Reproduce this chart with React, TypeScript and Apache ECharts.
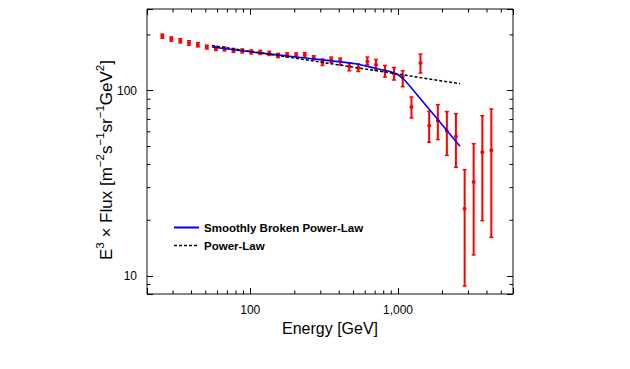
import React, { useEffect, useRef } from "react";
import * as echarts from "echarts";

// Measured data (energy in GeV, E^3 x Flux)
const energy = [25.4, 29.2, 33.6, 38.5, 44.2, 50.8, 58.5, 66.9, 77.0, 88.2, 101.6, 116.9, 134.6, 154.2, 177.5, 204.3, 233.7, 269, 308, 353, 406, 468, 538, 620, 709, 816, 939, 1076, 1233, 1419, 1624, 1860, 2141, 2465, 2824, 3251, 3719, 4280];
const flux = [197, 190, 186, 181, 177, 172, 169, 168, 165, 164, 162, 161, 159, 155, 156, 156, 156, 150.6, 142.8, 146.9, 145, 135.5, 132.5, 143.8, 138, 127.7, 123.5, 119, 81.7, 141, 64.8, 68.9, 60.7, 56.7, 23.1, 32.2, 46.5, 47.7];
const fluxLo = [192, 185, 181, 176, 172.5, 168, 165, 164, 161, 160, 158, 157, 155, 151, 152, 152, 151.5, 146.9, 136.9, 142.1, 138, 128.1, 127, 138, 129.2, 118.5, 114.2, 105.1, 71.3, 124.5, 52.7, 54.5, 44.8, 38.6, 8.83, 13.0, 19.9, 16.2];
const fluxHi = [202, 195, 191, 186, 181.5, 176, 173, 172, 169, 168, 166, 165, 163, 159, 160, 160, 160.5, 154.3, 148.2, 151.9, 150, 141, 139.3, 151.9, 147.5, 136.9, 133.5, 128.1, 92.5, 157.6, 77.4, 84.1, 77.1, 75.2, 37.5, 51.8, 73.3, 79.7];

// Smoothly broken power-law fit curve
const sbplE = [55, 100, 218.5, 516, 673, 763, 892, 1011, 1110, 1220, 1426, 1950, 2624];
const sbplV = [172, 162.2, 151.1, 139.8, 133.2, 130.1, 126.6, 121.2, 113.9, 104.4, 90.0, 66.8, 50.1];

// Power-law fit curve
const plE = [55, 558, 2624];
const plV = [175.4, 132.2, 109.1];

// Axes
const xMin = 20;
const xMax = 6000;
const yMin = 8;
const yMax = 276;
const xMinorTicks = [30, 40, 50, 60, 70, 80, 90, 200, 300, 400, 500, 600, 700, 800, 900, 2000, 3000, 4000, 5000];
const yMinorTicks = [9, 20, 30, 40, 50, 60, 70, 80, 90, 200];

const seriesNames = ["Smoothly Broken Power-Law", "Power-Law"];
const xTitle = "Energy [GeV]";
const yTitleRich = "{b|E}{s|3}{b| × Flux [m}{s|−2}{b|s}{s|−1}{b|sr}{s|−1}{b|GeV}{s|2}{b|]}";

const FONT = "'Liberation Sans', Arial, Helvetica, sans-serif";

function isDecade(v: number) {
  const l = Math.log10(v);
  return Math.abs(l - Math.round(l)) < 1e-6;
}
function fmt(v: number) {
  if (!isDecade(v)) return "";
  return Math.round(v).toLocaleString("en-US");
}

export default function App() {
  const ref = useRef<HTMLDivElement>(null);
  useEffect(() => {
    if (!ref.current) return;
    const chart = echarts.init(ref.current, undefined, { renderer: "svg" });
    const red = "#ff0000";
    const majorTick = { show: true, inside: true, length: 6, lineStyle: { color: "#000", width: 1 } };
    const option: any = {
      animation: false,
      backgroundColor: "#fff",
      textStyle: { fontFamily: FONT },
      grid: {
        left: 147,
        right: 117,
        top: 9,
        bottom: 75,
        show: true,
        borderColor: "#111",
        borderWidth: 1,
        backgroundColor: "transparent",
      },
      xAxis: [
        {
          type: "log",
          logBase: 10,
          min: xMin,
          max: xMax,
          position: "bottom",
          axisLine: { show: false },
          axisTick: majorTick,
          splitLine: { show: false },
          axisLabel: { formatter: fmt, fontSize: 12, color: "#000", margin: 10, fontFamily: FONT },
          name: xTitle,
          nameLocation: "middle",
          nameGap: 21,
          nameTextStyle: { fontSize: 16, color: "#000", fontFamily: FONT },
        },
        {
          type: "log",
          logBase: 10,
          min: xMin,
          max: xMax,
          position: "top",
          axisLine: { show: false },
          axisTick: majorTick,
          splitLine: { show: false },
          axisLabel: { show: false },
        },
      ],
      yAxis: [
        {
          type: "log",
          logBase: 10,
          min: yMin,
          max: yMax,
          position: "left",
          axisLine: { show: false },
          axisTick: majorTick,
          splitLine: { show: false },
          axisLabel: { formatter: fmt, fontSize: 12, color: "#000", margin: 10, fontFamily: FONT },
        },
        {
          type: "log",
          logBase: 10,
          min: yMin,
          max: yMax,
          position: "right",
          axisLine: { show: false },
          axisTick: majorTick,
          splitLine: { show: false },
          axisLabel: { show: false },
        },
      ],
      graphic: [
        {
          type: "text",
          x: 104,
          y: 160,
          rotation: Math.PI / 2,
          style: {
            text: yTitleRich,
            fontSize: 17,
            fontFamily: FONT,
            fill: "#000",
            align: "center",
            verticalAlign: "middle",
            rich: {
              b: { fontSize: 17, fontFamily: FONT, fill: "#000", lineHeight: 21, verticalAlign: "bottom" },
              s: { fontSize: 11.5, fontFamily: FONT, fill: "#000", lineHeight: 21, verticalAlign: "top" },
            },
          },
        },
        {
          type: "line",
          shape: { x1: 174, y1: 227.5, x2: 199, y2: 227.5 },
          style: { stroke: "#0000ff", lineWidth: 2 },
        },
        {
          type: "text",
          x: 204,
          y: 227.5,
          style: {
            text: seriesNames[0],
            fontSize: 11.5,
            fontWeight: "bold",
            fontFamily: FONT,
            fill: "#000",
            align: "left",
            verticalAlign: "middle",
          },
        },
        {
          type: "line",
          shape: { x1: 174, y1: 245.5, x2: 199, y2: 245.5 },
          style: { stroke: "#000", lineWidth: 1.3, lineDash: [3, 2] },
        },
        {
          type: "text",
          x: 204,
          y: 245.5,
          style: {
            text: seriesNames[1],
            fontSize: 11.5,
            fontWeight: "bold",
            fontFamily: FONT,
            fill: "#000",
            align: "left",
            verticalAlign: "middle",
          },
        },
      ],
      series: [
        {
          type: "custom",
          name: "minorX",
          data: xMinorTicks.map((v) => [v, 100]),
          silent: true,
          renderItem: (params: any, api: any) => {
            const p = api.coord([api.value(0), 100]);
            const cs = params.coordSys;
            const b = cs.y + cs.height;
            const st = { stroke: "#000", lineWidth: 1 };
            return {
              type: "group",
              children: [
                { type: "line", shape: { x1: p[0], y1: b, x2: p[0], y2: b - 3.5 }, style: st },
                { type: "line", shape: { x1: p[0], y1: cs.y, x2: p[0], y2: cs.y + 3.5 }, style: st },
              ],
            };
          },
        },
        {
          type: "custom",
          name: "minorY",
          data: yMinorTicks.map((v) => [100, v]),
          silent: true,
          renderItem: (params: any, api: any) => {
            const p = api.coord([100, api.value(1)]);
            const cs = params.coordSys;
            const r = cs.x + cs.width;
            const st = { stroke: "#000", lineWidth: 1 };
            return {
              type: "group",
              children: [
                { type: "line", shape: { x1: cs.x, y1: p[1], x2: cs.x + 3.5, y2: p[1] }, style: st },
                { type: "line", shape: { x1: r, y1: p[1], x2: r - 3.5, y2: p[1] }, style: st },
              ],
            };
          },
        },
        {
          type: "custom",
          name: "data",
          data: energy.map((e, i) => [e, flux[i], fluxLo[i], fluxHi[i]]),
          encode: { x: 0, y: 1 },
          z: 2,
          renderItem: (params: any, api: any) => {
            const e = api.value(0);
            const c = api.coord([e, api.value(1)]);
            const lo = api.coord([e, api.value(2)]);
            const hi = api.coord([e, api.value(3)]);
            const st = { stroke: red, lineWidth: 2 };
            return {
              type: "group",
              children: [
                { type: "line", shape: { x1: c[0], y1: hi[1], x2: c[0], y2: lo[1] }, style: st },
                { type: "line", shape: { x1: c[0] - 2, y1: hi[1], x2: c[0] + 2, y2: hi[1] }, style: { stroke: red, lineWidth: 1.5 } },
                { type: "line", shape: { x1: c[0] - 2, y1: lo[1], x2: c[0] + 2, y2: lo[1] }, style: { stroke: red, lineWidth: 1.5 } },
                { type: "circle", shape: { cx: c[0], cy: c[1], r: 2 }, style: { fill: red } },
              ],
            };
          },
        },
        {
          type: "line",
          name: seriesNames[0],
          data: sbplE.map((e, i) => [e, sbplV[i]]),
          showSymbol: false,
          symbol: "none",
          smooth: 0.3,
          z: 3,
          lineStyle: { color: "#0000ff", width: 1.6 },
          itemStyle: { color: "#0000ff" },
        },
        {
          type: "line",
          name: seriesNames[1],
          data: plE.map((e, i) => [e, plV[i]]),
          showSymbol: false,
          symbol: "none",
          z: 3,
          lineStyle: { color: "#000", width: 1.5, type: [3, 2] },
          itemStyle: { color: "#000" },
        },
      ],
    };
    chart.setOption(option);
    return () => chart.dispose();
  }, []);
  return (
    <div
      ref={ref}
      style={{ position: "fixed", left: 0, top: 0, width: 630, height: 369, background: "#fff" }}
    />
  );
}
